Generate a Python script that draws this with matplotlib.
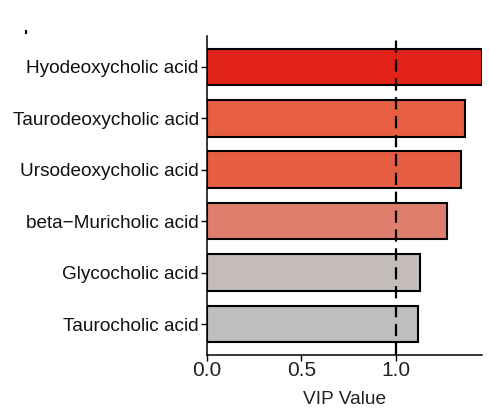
import matplotlib
matplotlib.use('Agg')
import matplotlib.pyplot as plt


compounds = ['Hyodeoxycholic acid', 'Taurodeoxycholic acid', 'Ursodeoxycholic acid',
             'beta\u2212Muricholic acid', 'Glycocholic acid', 'Taurocholic acid']
vip = [1.454, 1.365, 1.345, 1.27, 1.13, 1.12]
colors = ['#E2231A', '#E65F43', '#E55E44', '#E07E6E', '#C4BCBA', '#BEBEBE']
xticks = [0.0, 0.5, 1.0]
threshold = 1.0


def main():
    plt.rcParams['font.family'] = ['Liberation Sans', 'DejaVu Sans']

    fig = plt.figure(figsize=(4.9, 4.16), dpi=100)
    ax = fig.add_axes([0.4224, 0.1466, 0.5603, 0.767])

    pos = list(range(len(compounds)))
    ax.barh(pos, vip, height=0.71, color=colors, edgecolor='black',
            linewidth=1.5, zorder=2)
    ax.axvline(threshold, color='black', linestyle=(0, (5.5, 3)),
               linewidth=1.6, zorder=3)

    ax.set_yticks(pos)
    ax.set_yticklabels(compounds)
    ax.set_ylim(len(compounds) - 0.4, -0.6)
    ax.set_xlim(0, max(vip))
    ax.set_xticks(xticks)
    ax.set_xticklabels(['%.1f' % t for t in xticks])
    ax.set_xlabel('VIP Value', fontsize=13.8, color='#222222', labelpad=8)

    ax.tick_params(axis='y', labelsize=13.7, length=4, width=1,
                   colors='black', labelcolor='#111111', pad=2)
    ax.tick_params(axis='x', labelsize=15, length=4, width=1,
                   colors='black', labelcolor='#222222', pad=0)
    for side in ['top', 'right']:
        ax.spines[side].set_visible(False)
    for side in ['left', 'bottom']:
        ax.spines[side].set_linewidth(1.1)

    fig.text(0.049, 0.9, "'", fontsize=12, color='black', fontweight='bold')

    plt.savefig('out.png', dpi=100)


if __name__ == "__main__":
    main()
